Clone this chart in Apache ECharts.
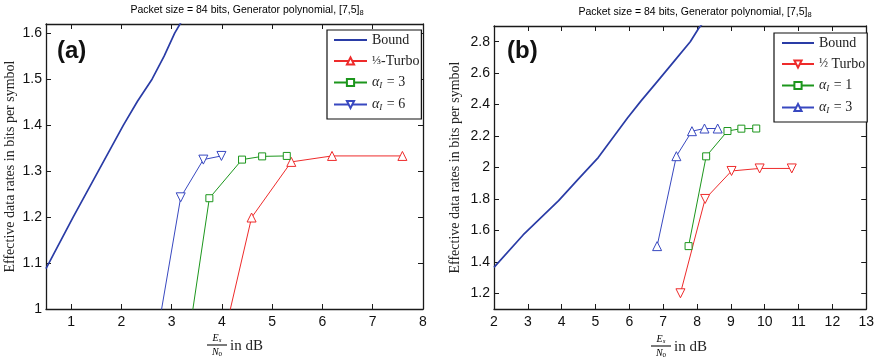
<!DOCTYPE html>
<html>
<head>
<meta charset="utf-8">
<script src="https://cdn.jsdelivr.net/npm/echarts@6/dist/echarts.min.js"></script>
<style>
  html, body { margin: 0; padding: 0; background: #fff; }
  #chart { width: 877px; height: 361px; }
</style>
</head>
<body>
<div id="chart"></div>
<script>
// 数据：左图 (a)
const xTicksA = [1, 2, 3, 4, 5, 6, 7, 8]
const yTicksA = [1, 1.1, 1.2, 1.3, 1.4, 1.5, 1.6]
const boundA = [[0.5, 1.088], [1.04, 1.2], [1.54, 1.3], [2.04, 1.4], [2.32, 1.452], [2.61, 1.5], [2.85, 1.55], [3.06, 1.6], [3.3, 1.645]]
const turboA = [[4.0, 0.921], [4.59, 1.199], [5.38, 1.32], [6.19, 1.333], [7.59, 1.333]]
const alpha3A = [[3.3, 0.91], [3.75, 1.241], [4.40, 1.325], [4.80, 1.332], [5.29, 1.333]]
const alpha6A = [[2.7, 0.936], [3.18, 1.243], [3.63, 1.325], [3.99, 1.333]]

// 数据：右图 (b)
const xTicksB = [2, 3, 4, 5, 6, 7, 8, 9, 10, 11, 12, 13]
const yTicksB = [1.2, 1.4, 1.6, 1.8, 2, 2.2, 2.4, 2.6, 2.8]
const boundB = [[2.0, 1.365], [2.86, 1.571], [3.91, 1.789], [4.49, 1.926], [5.08, 2.063], [5.95, 2.316], [6.34, 2.422], [6.83, 2.548], [7.32, 2.675], [7.80, 2.80], [8.05, 2.886], [8.3, 2.95]]
const turboB = [[7.51, 1.2], [8.24, 1.8], [9.02, 1.978], [9.85, 1.994], [10.80, 1.994]]
const alpha1B = [[7.75, 1.5], [8.27, 2.071], [8.90, 2.232], [9.31, 2.247], [9.75, 2.248]]
const alpha3B = [[6.82, 1.5], [7.39, 2.072], [7.85, 2.231], [8.22, 2.248], [8.61, 2.248]]

const legendLabels = {
  'a:bound': '{t|Bound}',
  'a:turbo': '{f|⅓}{t|-Turbo}',
  'a:alpha3': '{i|α}{s|I}{t| = 3}',
  'a:alpha6': '{i|α}{s|I}{t| = 6}',
  'b:bound': '{t|Bound}',
  'b:turbo': '{f|½}{t| Turbo}',
  'b:alpha1': '{i|α}{s|I}{t| = 1}',
  'b:alpha3': '{i|α}{s|I}{t| = 3}'
}

const RED = '#ee2b2b'
const GREEN = '#1c961c'
const BLUE = '#3848c0'
const BOUND = '#2a3ca6'
const AXIS = '#1a1a1a'
const SERIF = 'Liberation Serif, Times New Roman, serif'
const SANS = 'Liberation Sans, Arial, Helvetica, sans-serif'

const chart = echarts.init(document.getElementById('chart'))

// 坐标轴（下/左带刻度标签，上/右只有刻度）
function xAxisPair(gridIndex, min, max, ticks) {
  const base = {
    type: 'value', gridIndex, min, max,
    splitLine: {show: false},
    axisLine: {lineStyle: {color: AXIS, width: 1.3}},
    axisTick: {inside: true, length: 5, customValues: ticks, lineStyle: {color: AXIS}}
  }
  return [
    Object.assign({}, base, {
      position: 'bottom',
      axisLabel: {customValues: ticks, color: '#111', fontFamily: SANS, fontSize: 14, margin: 6}
    }),
    Object.assign({}, base, {position: 'top', axisLabel: {show: false}})
  ]
}
function yAxisPair(gridIndex, min, max, ticks, nameGap) {
  const base = {
    type: 'value', gridIndex, min, max,
    splitLine: {show: false},
    axisLine: {show: true, lineStyle: {color: AXIS, width: 1.3}},
    axisTick: {show: true, inside: true, length: 5, customValues: ticks, lineStyle: {color: AXIS}}
  }
  return [
    Object.assign({}, base, {
      position: 'left',
      name: 'Effective data rates in bits per symbol',
      nameLocation: 'middle',
      nameGap,
      nameMoveOverlap: false,
      nameTextStyle: {fontFamily: SERIF, fontSize: 14, color: '#222'},
      axisLabel: {customValues: ticks, color: '#111', fontFamily: SANS, fontSize: 14, margin: 4}
    }),
    Object.assign({}, base, {position: 'right', axisLabel: {show: false}})
  ]
}

function lineSeries(name, data, xi, yi, color, symbol, size, rotate) {
  return {
    name, type: 'line', data, xAxisIndex: xi, yAxisIndex: yi,
    symbol, symbolSize: size, symbolRotate: rotate || 0,
    showAllSymbol: true, clip: true,
    lineStyle: {color, width: 1},
    itemStyle: {color: '#fff', borderColor: color, borderWidth: 1},
    emphasis: {disabled: true}
  }
}
function boundSeries(name, data, xi, yi) {
  return {
    name, type: 'line', data, xAxisIndex: xi, yAxisIndex: yi,
    symbol: 'none', clip: true,
    lineStyle: {color: BOUND, width: 1.7},
    itemStyle: {color: BOUND},
    emphasis: {disabled: true}
  }
}

const legendRich = {
  t: {fontFamily: SERIF, fontSize: 14, color: '#222', lineHeight: 14},
  f: {fontFamily: SERIF, fontSize: 12, color: '#222', lineHeight: 14},
  i: {fontFamily: SERIF, fontSize: 14, fontStyle: 'italic', color: '#222', lineHeight: 14},
  s: {fontFamily: SERIF, fontSize: 9, fontStyle: 'italic', color: '#222', lineHeight: 14, padding: [6, 1, 0, 0]}
}
function legendBox(left, top, names, itemWidth, padLeft) {
  return {
    orient: 'vertical', left, top,
    data: names.map(n => n.endsWith('bound') ? {name: n, itemStyle: {opacity: 0}} : n),
    itemWidth, itemHeight: 9, itemGap: 7, padding: [3, 2, 7, padLeft],
    backgroundColor: '#fff', borderColor: '#111', borderWidth: 1.2, borderRadius: 0,
    selectedMode: false,
    formatter: name => legendLabels[name],
    textStyle: {rich: legendRich}
  }
}

// 横轴名称：分数 Es/N0 in dB
function xName(cx, y) {
  return [
    {type: 'text', x: cx, y: y - 7, style: {text: '{e|E}{s|s}', align: 'center', verticalAlign: 'middle',
      rich: {e: {fontFamily: SERIF, fontStyle: 'italic', fontSize: 10, color: '#222'},
             s: {fontFamily: SERIF, fontStyle: 'italic', fontSize: 7, color: '#222', padding: [4, 0, 0, 0]}}}},
    {type: 'line', shape: {x1: cx - 10, y1: y, x2: cx + 10, y2: y}, style: {stroke: '#222', lineWidth: 1.2}},
    {type: 'text', x: cx, y: y + 7, style: {text: '{e|N}{s|0}', align: 'center', verticalAlign: 'middle',
      rich: {e: {fontFamily: SERIF, fontStyle: 'italic', fontSize: 10, color: '#222'},
             s: {fontFamily: SERIF, fontSize: 7, color: '#222', padding: [4, 0, 0, 0]}}}},
    {type: 'text', x: cx + 13, y: y + 1, style: {text: 'in dB', verticalAlign: 'middle',
      fontFamily: SERIF, fontSize: 15, fill: '#222'}}
  ]
}
function title(cx, y) {
  return {type: 'text', x: cx, y, style: {
    text: '{t|Packet size = 84 bits, Generator polynomial, [7,5]}{s|8}', align: 'center', verticalAlign: 'middle',
    rich: {t: {fontFamily: SANS, fontSize: 10.5, color: '#222'},
           s: {fontFamily: SANS, fontSize: 7.5, color: '#222', padding: [5, 0, 0, 0]}}}}
}
function panelTag(text, x, y) {
  return {type: 'text', x, y, style: {text, fontFamily: SANS, fontWeight: 'bold', fontSize: 24, fill: '#111', verticalAlign: 'middle'}}
}

const option = {
  animation: false,
  backgroundColor: '#fff',
  grid: [
    {left: 46, top: 24, width: 377, height: 285},
    {left: 494, top: 26, width: 375, height: 283}
  ],
  xAxis: [...xAxisPair(0, 0.5, 8, xTicksA), ...xAxisPair(1, 2, 13, xTicksB)],
  yAxis: [...yAxisPair(0, 1, 1.62, yTicksA, 29), ...yAxisPair(1, 1.1, 2.9, yTicksB, 32)],
  legend: [
    legendBox(327, 30, ['a:bound', 'a:turbo', 'a:alpha3', 'a:alpha6'], 33, 6),
    legendBox(774, 33, ['b:bound', 'b:turbo', 'b:alpha1', 'b:alpha3'], 32, 7)
  ],
  series: [
    boundSeries('a:bound', boundA, 0, 0),
    lineSeries('a:turbo', turboA, 0, 0, RED, 'triangle', 9),
    lineSeries('a:alpha3', alpha3A, 0, 0, GREEN, 'rect', 7),
    lineSeries('a:alpha6', alpha6A, 0, 0, BLUE, 'triangle', 9, 180),
    boundSeries('b:bound', boundB, 2, 2),
    lineSeries('b:turbo', turboB, 2, 2, RED, 'triangle', 9, 180),
    lineSeries('b:alpha1', alpha1B, 2, 2, GREEN, 'rect', 7),
    lineSeries('b:alpha3', alpha3B, 2, 2, BLUE, 'triangle', 9)
  ],
  graphic: [
    title(247, 10),
    title(695, 12),
    panelTag('(a)', 57, 51),
    panelTag('(b)', 507, 51),
    ...xName(217, 345),
    ...xName(661, 346)
  ]
}
chart.setOption(option)
</script>
</body>
</html>
